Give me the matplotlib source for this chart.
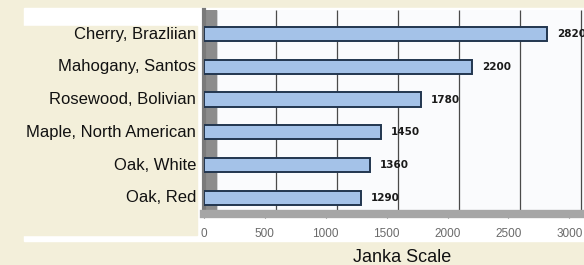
import matplotlib.pyplot as plt
from matplotlib.patches import Rectangle

# Wood hardness on the Janka scale
woods = ['Cherry, Brazliian', 'Mahogany, Santos', 'Rosewood, Bolivian',
         'Maple, North American', 'Oak, White', 'Oak, Red']
hardness = [2820, 2200, 1780, 1450, 1360, 1290]
ticks = [0, 500, 1000, 1500, 2000, 2500, 3000]

W, H = 584, 265
cream = '#f3efda'

fig = plt.figure(figsize=(W / 100, H / 100), dpi=100, facecolor=cream)

# white panel behind the chart, cream over the label column
fig.patches.append(Rectangle((24 / W, 1 - 241 / H), (W - 24) / W, 233 / H,
                             transform=fig.transFigure, color='white', zorder=-2))
fig.patches.append(Rectangle((0, 1 - 235 / H), 197 / W, 209 / H,
                             transform=fig.transFigure, color=cream, zorder=-1))

ax = fig.add_axes([204 / W, 1 - 214 / H, (W - 204) / W, 204 / H])
ax.set_facecolor('#fafbfd')
y = list(range(len(woods)))

# back-wall grid, shifted right a little for the 3D look
depth = 95
ax.vlines([t + depth for t in ticks], -0.73, 5.49, color='#4a4a4a',
          linewidth=0.9, zorder=1)
ax.axvspan(0, depth, color='#8c8c8c', zorder=2)

ax.barh(y, hardness, height=0.43, color='#a4c2e8', edgecolor='#22364f',
        linewidth=1.4, zorder=3)
for yi, v in zip(y, hardness):
    ax.text(v + 80, yi, str(v), va='center', ha='left', fontsize=7.5,
            fontweight='bold', color='#1a1a1a', zorder=4)

ax.set_xlim(0, 3120)
ax.set_ylim(5.49, -0.73)
ax.set_xticks(ticks)
ax.set_xticklabels([str(t) for t in ticks], fontsize=8.5, color='#6a6a6a',
                   family='Liberation Sans')
ax.set_yticks(y)
ax.set_yticklabels([])
ax.tick_params(axis='y', length=0)
ax.tick_params(axis='x', length=3, color='#666666', pad=7)
for s in ['top', 'right']:
    ax.spines[s].set_visible(False)
ax.spines['left'].set_color('#7a7a7a')
ax.spines['left'].set_linewidth(3)
ax.spines['bottom'].set_color('#a6a6a6')
ax.spines['bottom'].set_linewidth(6)

# category labels in the cream column
for yi, name in zip(y, woods):
    fig.text(196 / W, 1 - (34 + 32.8 * yi) / H, name, ha='right', va='center',
             fontsize=12, family='Liberation Sans', color='#111111')

fig.text(402 / W, 1 - 257 / H, 'Janka Scale', ha='center', va='center',
         fontsize=13, family='Liberation Sans', color='#111111')

fig.savefig('out.png', dpi=100, facecolor=cream)
